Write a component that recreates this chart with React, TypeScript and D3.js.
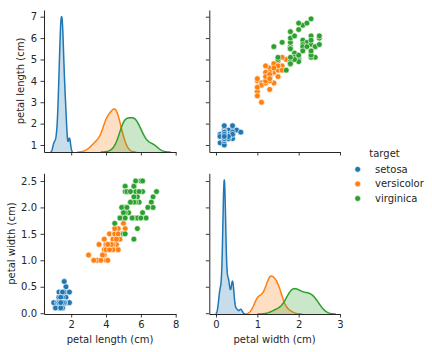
import React, { useEffect, useRef } from 'react';
import * as d3 from 'd3';

// iris petal measurements, by species (cm)
const species = ['setosa', 'versicolor', 'virginica'];
const colors = ['#1f77b4', '#ff7f0e', '#2ca02c'];

const setosaLength = [1.4, 1.4, 1.3, 1.5, 1.4, 1.7, 1.4, 1.5, 1.4, 1.5, 1.5, 1.6, 1.4, 1.1, 1.2, 1.5, 1.3, 1.4, 1.7, 1.5,
  1.7, 1.5, 1.0, 1.7, 1.9, 1.6, 1.6, 1.5, 1.4, 1.6, 1.6, 1.5, 1.5, 1.4, 1.5, 1.2, 1.3, 1.4, 1.3, 1.5,
  1.3, 1.3, 1.3, 1.6, 1.9, 1.4, 1.6, 1.4, 1.5, 1.4];
const setosaWidth = [0.2, 0.2, 0.2, 0.2, 0.2, 0.4, 0.3, 0.2, 0.2, 0.1, 0.2, 0.2, 0.1, 0.1, 0.2, 0.4, 0.4, 0.3, 0.3, 0.3,
  0.2, 0.4, 0.2, 0.5, 0.2, 0.2, 0.4, 0.2, 0.2, 0.2, 0.2, 0.4, 0.1, 0.2, 0.2, 0.2, 0.2, 0.1, 0.2, 0.2,
  0.3, 0.3, 0.2, 0.6, 0.4, 0.3, 0.2, 0.2, 0.2, 0.2];
const versicolorLength = [4.7, 4.5, 4.9, 4.0, 4.6, 4.5, 4.7, 3.3, 4.6, 3.9, 3.5, 4.2, 4.0, 4.7, 3.6, 4.4, 4.5, 4.1, 4.5, 3.9,
  4.8, 4.0, 4.9, 4.7, 4.3, 4.4, 4.8, 5.0, 4.5, 3.5, 3.8, 3.7, 3.9, 5.1, 4.5, 4.5, 4.7, 4.4, 4.1, 4.0,
  4.4, 4.6, 4.0, 3.3, 4.2, 4.2, 4.2, 4.3, 3.0, 4.1];
const versicolorWidth = [1.4, 1.5, 1.5, 1.3, 1.5, 1.3, 1.6, 1.0, 1.3, 1.4, 1.0, 1.5, 1.0, 1.4, 1.3, 1.4, 1.5, 1.0, 1.5, 1.1,
  1.8, 1.3, 1.5, 1.2, 1.3, 1.4, 1.4, 1.7, 1.5, 1.0, 1.1, 1.0, 1.2, 1.6, 1.5, 1.6, 1.5, 1.3, 1.3, 1.3,
  1.2, 1.4, 1.2, 1.0, 1.3, 1.2, 1.3, 1.3, 1.1, 1.3];
const virginicaLength = [6.0, 5.1, 5.9, 5.6, 5.8, 6.6, 4.5, 6.3, 5.8, 6.1, 5.1, 5.3, 5.5, 5.0, 5.1, 5.3, 5.5, 6.7, 6.9, 5.0,
  5.7, 4.9, 6.7, 4.9, 5.7, 6.0, 4.8, 4.9, 5.6, 5.8, 6.1, 6.4, 5.6, 5.1, 5.6, 6.1, 5.6, 5.5, 4.8, 5.4,
  5.6, 5.1, 5.1, 5.9, 5.7, 5.2, 5.0, 5.2, 5.4, 5.1];
const virginicaWidth = [2.5, 1.9, 2.1, 1.8, 2.2, 2.1, 1.7, 1.8, 1.8, 2.5, 2.0, 1.9, 2.1, 2.0, 2.4, 2.3, 1.8, 2.2, 2.3, 1.5,
  2.3, 2.0, 2.0, 1.8, 2.1, 1.8, 1.8, 1.8, 2.1, 1.6, 1.9, 2.0, 2.2, 1.5, 1.4, 2.3, 2.4, 1.8, 1.8, 2.1,
  2.4, 2.3, 1.9, 2.3, 2.5, 2.3, 1.9, 2.0, 2.3, 1.8];

const lengths = [setosaLength, versicolorLength, virginicaLength];
const widths = [setosaWidth, versicolorWidth, virginicaWidth];

const lengthTicks = [1, 2, 3, 4, 5, 6, 7];
const lengthAxisTicks = [2, 4, 6, 8];
const widthTicks = [0, 0.5, 1, 1.5, 2, 2.5];
const widthAxisTicks = [0, 1, 2, 3];

const ink = '#262626';
const font = '"DejaVu Sans", sans-serif';

// gaussian kde, scott bandwidth (robust sigma), cut = 3
const kde = (values: number[]) => {
  const n = values.length;
  const sorted = values.slice().sort(d3.ascending);
  const iqr = ((d3.quantileSorted(sorted, 0.75) as number) - (d3.quantileSorted(sorted, 0.25) as number)) / 1.349;
  const sd = d3.deviation(values) as number;
  const sigma = iqr > 0 ? Math.min(sd, iqr) : sd;
  const bw = 1.059 * sigma * Math.pow(n, -0.2);
  const lo = (d3.min(values) as number) - 3 * bw;
  const hi = (d3.max(values) as number) + 3 * bw;
  const norm = 1 / (n * bw * Math.sqrt(2 * Math.PI));
  return d3.range(100).map(i => {
    const x = lo + (hi - lo) * i / 99;
    return [x, norm * d3.sum(values, v => Math.exp(-0.5 * ((x - v) / bw) ** 2))];
  });
};

const App = () => {
  const ref = useRef(null);

  useEffect(() => {
    const svg = d3.select(ref.current);
    svg.selectAll('*').remove();

    const xLen = d3.scaleLinear().domain([0.44, 8.0]).range([44, 175.7]);
    const xWid = d3.scaleLinear().domain([-0.162, 3.0]).range([209.3, 340]);
    const yLen = d3.scaleLinear().domain([0.673, 7.313]).range([152, 10]);
    const yWid = d3.scaleLinear().domain([-0.015, 2.645]).range([314, 173.3]);

    const plotDiag = (groups: number[][], x: d3.ScaleLinear<number, number>, y: d3.ScaleLinear<number, number>) => {
      const curves = groups.map(g => kde(g));
      const top = d3.max(curves, c => d3.max(c, p => p[1])) as number;
      const yd = d3.scaleLinear().domain([0, top * 1.05]).range(y.range());
      const area = d3.area<number[]>().x(p => x(p[0])).y0(yd(0)).y1(p => yd(p[1]));
      const line = d3.line<number[]>().x(p => x(p[0])).y(p => yd(p[1]));
      const g = svg.append('g');
      [0, 1, 2].forEach(i => {
        g.append('path').attr('d', area(curves[i])).attr('fill', colors[i]).attr('fill-opacity', 0.25);
        g.append('path').attr('d', line(curves[i])).attr('fill', 'none')
          .attr('stroke', colors[i]).attr('stroke-width', 1.5).attr('stroke-linejoin', 'round');
      });
    };

    const plotScatter = (xs: number[][], ys: number[][], x: d3.ScaleLinear<number, number>, y: d3.ScaleLinear<number, number>) => {
      const g = svg.append('g');
      xs.forEach((col, i) => {
        g.selectAll(null)
          .data(col.map((v, j) => [v, ys[i][j]]))
          .join('circle')
          .attr('cx', d => x(d[0]))
          .attr('cy', d => y(d[1]))
          .attr('r', 2.9)
          .attr('fill', colors[i])
          .attr('stroke', 'white')
          .attr('stroke-width', 0.6);
      });
    };

    plotDiag(lengths, xLen, yLen);
    plotScatter(widths, lengths, xWid, yLen);
    plotScatter(lengths, widths, xLen, yWid);
    plotDiag(widths, xWid, yWid);

    const styleAxis = (g: any) => {
      g.attr('font-family', font).attr('font-size', 10);
      g.selectAll('.domain').attr('stroke', ink).attr('stroke-width', 1);
      g.selectAll('.tick line').attr('stroke', ink).attr('stroke-width', 0.9);
      g.selectAll('.tick text').attr('fill', ink);
    };

    const noLabel = () => '';
    const axes = [
      { axis: d3.axisLeft(yLen).tickValues(lengthTicks).tickFormat(d3.format('d')), at: [44, 0] },
      { axis: d3.axisLeft(yLen).tickValues(lengthTicks).tickFormat(noLabel), at: [209.3, 0] },
      { axis: d3.axisLeft(yWid).tickValues(widthTicks).tickFormat(d3.format('.1f')), at: [44, 0] },
      { axis: d3.axisLeft(yWid).tickValues(widthTicks).tickFormat(noLabel), at: [209.3, 0] },
      { axis: d3.axisBottom(xLen).tickValues(lengthAxisTicks).tickFormat(noLabel), at: [0, 152] },
      { axis: d3.axisBottom(xWid).tickValues(widthAxisTicks).tickFormat(noLabel), at: [0, 152] },
      { axis: d3.axisBottom(xLen).tickValues(lengthAxisTicks).tickFormat(d3.format('d')), at: [0, 314] },
      { axis: d3.axisBottom(xWid).tickValues(widthAxisTicks).tickFormat(d3.format('d')), at: [0, 314] },
    ];
    axes.forEach(a => {
      svg.append('g')
        .attr('transform', `translate(${a.at[0]}, ${a.at[1]})`)
        .call(a.axis.tickSize(3.5).tickSizeOuter(0).tickPadding(3.5))
        .call(styleAxis);
    });

    const label = (text: string, x: number, y: number, rotate: boolean) => {
      svg.append('text')
        .attr('transform', rotate ? `translate(${x}, ${y}) rotate(-90)` : `translate(${x}, ${y})`)
        .attr('text-anchor', 'middle')
        .attr('font-family', font)
        .attr('font-size', 10)
        .attr('fill', ink)
        .text(text);
    };
    label('petal length (cm)', 24, 81, true);
    label('petal width (cm)', 14.5, 243.6, true);
    label('petal length (cm)', 110, 342.5, false);
    label('petal width (cm)', 274.6, 342.5, false);

    // legend
    const legend = svg.append('g').attr('font-family', font).attr('font-size', 10).attr('fill', ink);
    legend.append('text').attr('x', 384.5).attr('y', 153.3).attr('dy', '0.35em')
      .attr('text-anchor', 'middle').text('target');
    species.forEach((name, i) => {
      const cy = 169.3 + i * 14.6;
      legend.append('circle').attr('cx', 357.7).attr('cy', cy).attr('r', 2.9)
        .attr('fill', colors[i]).attr('stroke', 'white').attr('stroke-width', 0.6);
      legend.append('text').attr('x', 375).attr('y', cy).attr('dy', '0.35em').text(name);
    });
  });

  return (
    <svg
      ref={ref}
      width={432}
      height={352}
      viewBox="0 0 432 352"
      style={{ position: 'absolute', left: 0, top: 0, background: 'white' }}
    />
  );
};

export default App;
